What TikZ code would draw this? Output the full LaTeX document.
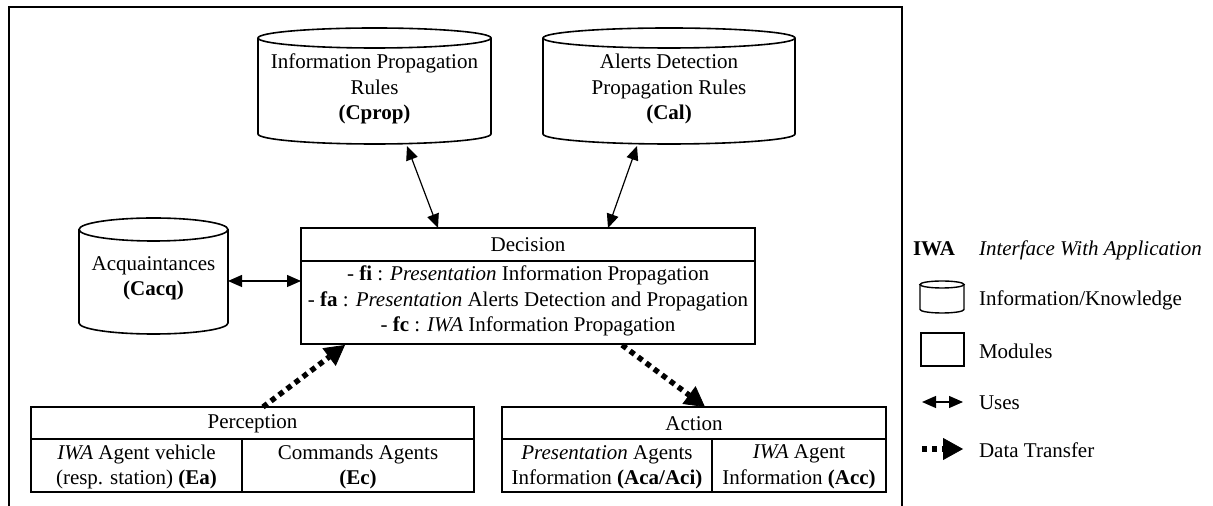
\documentclass[tikz,border=0pt]{standalone}
\usepackage{fontspec}
\setmainfont{Liberation Serif}
\usetikzlibrary{arrows.meta,calc}
\begin{document}
\begin{tikzpicture}[x=0.5pt,y=-0.5pt,
  every node/.style={font=\fontsize{10.5}{12.7}\selectfont, inner sep=0pt, outer sep=0pt},
  txt/.style={align=center},
  shapebox/.style={draw, line width=0.8pt},
  ghost/.style={draw=none, inner sep=0pt},
  cylline/.style={line width=0.8pt},
  uses/.style={line width=0.6pt, {Triangle[length=7pt,width=6pt]}-{Triangle[length=7pt,width=6pt]}},
  transfer/.style={line width=2.7pt, dash pattern=on 2.7pt off 2.3pt, -{Triangle[length=10pt,width=11pt,line width=0.4pt]}}]
\useasboundingbox (0,0) rectangle (1213,506);
% frame
\draw[line width=0.8pt] (9,506) -- (9,7) -- (902,7) -- (902,506);

% Cprop cylinder
\draw[cylline] (374.5,38) ellipse [x radius=58.25pt, y radius=5pt];
\draw[cylline] (258,38) -- (258,134) arc[start angle=180, end angle=360, x radius=58.25pt, y radius=5pt] -- (491,38);
\node[ghost, minimum width=116.5pt, minimum height=58pt] (cprop) at (374.5,86) {};
\node[txt] (cproptext) at (374.5,89) {Information Propagation\\Rules\\\textbf{(Cprop)}};

% Cal cylinder
\draw[cylline] (669,38) ellipse [x radius=63pt, y radius=5pt];
\draw[cylline] (543,38) -- (543,134) arc[start angle=180, end angle=360, x radius=63pt, y radius=5pt] -- (795,38);
\node[ghost, minimum width=126pt, minimum height=58pt] (cal) at (669,86) {};
\node[txt] (caltext) at (669,89) {Alerts Detection\\Propagation Rules\\\textbf{(Cal)}};

% Acquaintances cylinder
\draw[cylline] (153.5,229.5) ellipse [x radius=37.25pt, y radius=5.75pt];
\draw[cylline] (79,229.5) -- (79,323) arc[start angle=180, end angle=360, x radius=37.25pt, y radius=5.5pt] -- (228,229.5);
\node[ghost, minimum width=74.5pt, minimum height=58pt] (acq) at (153.5,276) {};
\node[txt] (acqtext) at (153.5,278) {Acquaintances\\\textbf{(Cacq)}};

% Decision
\node[shapebox, minimum width=227pt, minimum height=58pt] (dec) at (528,286) {};
\draw[line width=0.8pt] (dec.west |- 0,261) -- (dec.east |- 0,261);
\node (dectitle) at (528,245) {Decision};
\node[txt] (decbody) at (528,301) {- \textbf{fi} : \textit{Presentation} Information Propagation\\
- \textbf{fa} : \textit{Presentation} Alerts Detection and Propagation\\
- \textbf{fc} : \textit{IWA} Information Propagation};

% Perception
\node[shapebox, minimum width=221.5pt, minimum height=42.5pt] (perc) at (252.5,449.5) {};
\draw[line width=0.8pt] (perc.west |- 0,439) -- (perc.east |- 0,439);
\draw[line width=0.8pt] (242,439) -- (242,492);
\node (perctitle) at (252.5,424) {Perception};
\node[txt] (perca) at (136.5,467) {\textit{IWA} Agent vehicle\\(resp. station) \textbf{(Ea)}};
\node[txt] (percc) at (358,467) {Commands Agents\\\textbf{(Ec)}};

% Action
\node[shapebox, minimum width=192pt, minimum height=42.5pt] (act) at (694,449.5) {};
\draw[line width=0.8pt] (act.west |- 0,439) -- (act.east |- 0,439);
\draw[line width=0.8pt] (712,439) -- (712,492);
\node (acttitle) at (694,424) {Action};
\node[txt] (acta) at (607,467) {\textit{Presentation} Agents\\Information \textbf{(Aca/Aci)}};
\node[txt] (actc) at (799,467) {\textit{IWA} Agent\\Information \textbf{(Acc)}};

% connectors
\draw[uses] ($(cprop.south)+(32.5,2)$) -- ($(dec.north)+(-90,0)$);
\draw[uses] ($(cal.south)+(-32,2)$) -- ($(dec.north)+(80,0)$);
\coordinate (ya) at (0,281);
\draw[uses] (acq.east |- ya) -- (dec.west |- ya);
\draw[transfer] ($(perc.north)+(10.5,0)$) -- ($(dec.south)+(-183,1)$);
\draw[transfer] ($(dec.south)+(94,1)$) -- ($(act.north)+(11,0)$);

% legend
\node[anchor=base west] (iwa) at (913,256) {\textbf{IWA}};
\node[anchor=base west] (iwadef) at (979,256) {\textit{Interface With Application}};

\draw[line width=0.7pt] (942,284.5) ellipse [x radius=11pt, y radius=1.75pt];
\draw[line width=0.7pt] (920,284.5) -- (920,309.5) arc[start angle=180, end angle=360, x radius=11pt, y radius=1.75pt] -- (964,284.5);
\node[ghost, minimum width=22pt, minimum height=16pt] (legcyl) at (942,297) {};
\node[anchor=west] (legcyltext) at (979,300) {Information/Knowledge};

\node[shapebox, line width=0.7pt, minimum width=21.5pt, minimum height=16.5pt] (legbox) at (942.5,349.5) {};
\node[anchor=west] (legboxtext) at (979,351) {Modules};

\coordinate (lu1) at (922,402);
\coordinate (lu2) at (963,402);
\draw[uses] (lu1) -- (lu2);
\node[anchor=west] (legusestext) at (979,403) {Uses};

\coordinate (lt1) at (922,449);
\coordinate (lt2) at (963,449);
\draw[transfer] (lt1) -- (lt2);
\node[anchor=west] (legtrtext) at (979,450) {Data Transfer};
\end{tikzpicture}
\end{document}
